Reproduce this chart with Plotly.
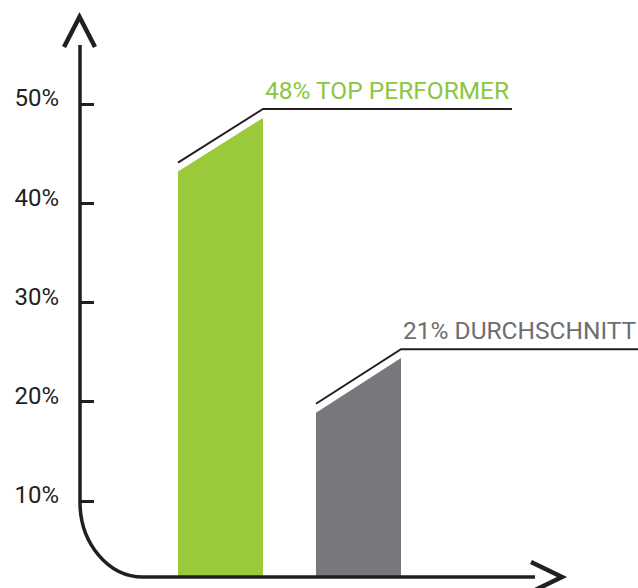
import plotly.graph_objects as go

# ---------------- data ----------------
categories = ["TOP PERFORMER", "DURCHSCHNITT"]
label_values = [48, 21]              # percentages shown in the labels
bar_left_top = [43.2, 18.9]          # height of the slanted top, left edge (%)
bar_right_top = [48.6, 24.4]         # height of the slanted top, right edge (%)
tick_values = [10, 20, 30, 40, 50]
tick_labels = ["10%", "20%", "30%", "40%", "50%"]

# ---------------- style ----------------
W, H = 638, 588
ML, MR, MT, MB = 80, 0, 0, 11
X_RANGE = [-1.0181, 3.0254]
Y_RANGE = [2.343, 60.48]
HALF_W = 0.308
LINE_OFFSET = 0.9
LINE_END = [2.112, 3.03]
BAR_COLORS = ["#9aca3c", "#77787b"]
TEXT_COLORS = ["#8cc63f", "#6d6e71"]
DARK = "#231f20"
FONT = "Roboto"

fig = go.Figure()

for i, cat in enumerate(categories):
    l, r = bar_left_top[i], bar_right_top[i]
    # bar body with slanted top
    fig.add_trace(go.Scatter(
        x=[i - HALF_W, i - HALF_W, i + HALF_W, i + HALF_W, i - HALF_W],
        y=[0, l, r, 0, 0],
        mode="lines", fill="toself",
        fillcolor=BAR_COLORS[i], line=dict(width=0, color=BAR_COLORS[i]),
        hoverinfo="skip", showlegend=False,
    ))
    # leader line above the bar
    fig.add_trace(go.Scatter(
        x=[i - HALF_W, i + HALF_W, LINE_END[i]],
        y=[l + LINE_OFFSET, r + LINE_OFFSET, r + LINE_OFFSET],
        mode="lines", line=dict(width=2, color=DARK),
        hoverinfo="skip", showlegend=False,
    ))
    fig.add_annotation(
        x=i + HALF_W, y=r + LINE_OFFSET, xref="x", yref="y",
        text=f"{label_values[i]}% {cat}", showarrow=False,
        xanchor="left", yanchor="bottom", yshift=2,
        font=dict(family=FONT, size=24.5, color=TEXT_COLORS[i]),
    )


def px(x):
    return (x - ML) / (W - ML - MR)


def py(y):
    return (H - MB - y) / (H - MT - MB)


axis_path = (f"M {px(80)},{py(45)} L {px(80)},{py(502)} "
             f"C {px(80)},{py(543)} {px(108)},{py(577)} {px(143)},{py(577)} "
             f"L {px(535)},{py(577)}")
top_arrow = f"M {px(64)},{py(47)} L {px(79.5)},{py(17)} L {px(95)},{py(47)}"
right_arrow = f"M {px(531)},{py(562)} L {px(562)},{py(577)} L {px(531)},{py(592)}"

shapes = [
    dict(type="path", path=axis_path, xref="paper", yref="paper",
         line=dict(color=DARK, width=3.5)),
    dict(type="path", path=top_arrow, xref="paper", yref="paper",
         line=dict(color=DARK, width=4.5)),
    dict(type="path", path=right_arrow, xref="paper", yref="paper",
         line=dict(color=DARK, width=4.5)),
]

fig.update_layout(
    width=W, height=H,
    margin=dict(l=ML, r=MR, t=MT, b=MB),
    paper_bgcolor="white", plot_bgcolor="white",
    shapes=shapes,
    xaxis=dict(range=X_RANGE, visible=False, fixedrange=True),
    yaxis=dict(
        range=Y_RANGE, showgrid=False, zeroline=False, showline=False,
        tickmode="array", tickvals=tick_values, ticktext=tick_labels,
        ticks="inside", ticklen=14, tickwidth=3, tickcolor=DARK,
        ticklabelstandoff=20, ticklabelshift=-6,
        tickfont=dict(family=FONT, size=24, color=DARK),
        fixedrange=True,
    ),
    showlegend=False,
)

fig.write_html(
    "out.html",
    config={"displayModeBar": False},
    post_script="document.body.style.margin='0';document.body.style.overflow='hidden';",
)
